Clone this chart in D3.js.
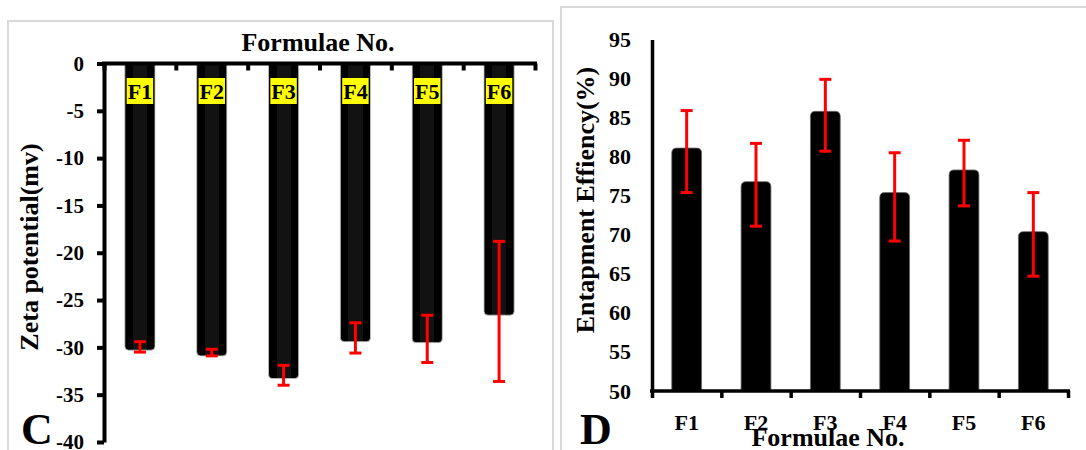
<!DOCTYPE html>
<html>
<head>
<meta charset="utf-8">
<script src="https://cdn.jsdelivr.net/npm/d3@7"></script>
<style>
  body { margin: 0; background: #fff; }
  text { font-family: "Liberation Serif", "Times New Roman", serif; font-weight: bold; fill: #000; }
</style>
</head>
<body>
<div id="chart"></div>
<script>
var svgWidth = 1086;
var svgHeight = 450;

// data
var categories = ["F1", "F2", "F3", "F4", "F5", "F6"];

// panel C : zeta potential (mv)
var zetaValues = [-30.3, -30.9, -33.3, -29.4, -29.5, -26.6];
var zetaErrUp = [0.9, 0.7, 1.4, 2.0, 2.9, 7.8];     // toward zero
var zetaErrDown = [0.2, 0.0, 0.7, 1.2, 2.1, 7.0];
var zetaTicks = [0, -5, -10, -15, -20, -25, -30, -35, -40];

// panel D : entrapment efficiency (%)
var eeValues = [81.1, 76.8, 85.8, 75.4, 78.3, 70.4];
var eeErrUp = [4.8, 4.9, 4.1, 5.1, 3.8, 5.0];
var eeErrDown = [5.7, 5.7, 5.1, 6.2, 4.6, 5.7];
var eeTicks = [50, 55, 60, 65, 70, 75, 80, 85, 90, 95];

var svg = d3.select("#chart")
  .append("svg")
  .attr("width", svgWidth)
  .attr("height", svgHeight);

// bar with rounded corners only at the far end
function barPath(x, w, y0, y1, r) {
  var dir = y1 > y0 ? 1 : -1;
  var yc = y1 - dir * r;
  return `M${x},${y0}V${yc}Q${x},${y1} ${x + r},${y1}H${x + w - r}Q${x + w},${y1} ${x + w},${yc}V${y0}Z`;
}

// gradient used by the C bars (dark stripe in the middle)
var defs = svg.append("defs");
var grad = defs.append("linearGradient").attr("id", "barGrad");
[["0%", "#000"], ["27%", "#000"], ["27%", "#121212"], ["74%", "#121212"], ["74%", "#000"], ["100%", "#000"]]
  .forEach(s => grad.append("stop").attr("offset", s[0]).attr("stop-color", s[1]));

// panel borders
svg.append("rect").attr("x", 8).attr("y", 21).attr("width", 545).attr("height", 450)
  .attr("fill", "none").attr("stroke", "#d9d9d9").attr("stroke-width", 2);
svg.append("rect").attr("x", 561).attr("y", 7).attr("width", 540).attr("height", 460)
  .attr("fill", "none").attr("stroke", "#d9d9d9").attr("stroke-width", 2);

// ================= Panel C =================
var cx = d3.scaleBand().domain(categories).range([104, 535]).paddingInner(0.58).paddingOuter(0.29);
var cy = d3.scaleLinear().domain([0, -40]).range([63.5, 442]);
var cEdges = d3.scaleLinear().domain([0, categories.length]).range(cx.range());

var cGroup = svg.append("g");

// bars
cGroup.selectAll("path.cbar")
  .data(categories)
  .enter()
  .append("path")
  .attr("class", "cbar")
  .attr("d", (d, i) => barPath(cx(d), cx.bandwidth(), cy(0), cy(zetaValues[i]), 4))
  .attr("fill", "url(#barGrad)")
  .attr("stroke", "#c8c8c8")
  .attr("stroke-width", 0.8);

// error bars
var cErr = cGroup.selectAll("g.cerr")
  .data(categories)
  .enter()
  .append("g")
  .attr("class", "cerr")
  .attr("stroke", "#ff0000")
  .attr("stroke-width", 3);
cErr.append("line")
  .attr("x1", d => cx(d) + cx.bandwidth() / 2)
  .attr("x2", d => cx(d) + cx.bandwidth() / 2)
  .attr("y1", (d, i) => cy(zetaValues[i] + zetaErrUp[i]))
  .attr("y2", (d, i) => cy(zetaValues[i] - zetaErrDown[i]));
cErr.append("line")
  .attr("x1", d => cx(d) + cx.bandwidth() / 2 - 6)
  .attr("x2", d => cx(d) + cx.bandwidth() / 2 + 6)
  .attr("y1", (d, i) => cy(zetaValues[i] + zetaErrUp[i]))
  .attr("y2", (d, i) => cy(zetaValues[i] + zetaErrUp[i]));
cErr.append("line")
  .attr("x1", d => cx(d) + cx.bandwidth() / 2 - 6)
  .attr("x2", d => cx(d) + cx.bandwidth() / 2 + 6)
  .attr("y1", (d, i) => cy(zetaValues[i] - zetaErrDown[i]))
  .attr("y2", (d, i) => cy(zetaValues[i] - zetaErrDown[i]));

// y axis (plain hyphen for the minus sign, like the original)
var cYAxis = cGroup.append("g")
  .attr("transform", "translate(104,0)")
  .call(d3.axisLeft(cy).tickValues(zetaTicks).tickFormat(d => String(d))
    .tickSize(7).tickSizeOuter(0).tickPadding(13));
cYAxis.select(".domain").attr("stroke", "#000").attr("stroke-width", 4);
cYAxis.selectAll(".tick line").attr("stroke", "#000").attr("stroke-width", 4);
cYAxis.selectAll(".tick text").style("font-size", "21px").style("font-family", null).attr("fill", "#000");

// x axis on top (zero line) with ticks between categories
var cXAxis = cGroup.append("g")
  .attr("transform", `translate(0,${cy(0)})`)
  .call(d3.axisBottom(cEdges).tickValues(d3.range(categories.length + 1)).tickFormat("").tickSize(7).tickSizeOuter(0));
cXAxis.select(".domain").attr("stroke", "#000").attr("stroke-width", 4)
  .attr("d", `M102,0H537`);
cXAxis.selectAll(".tick line").attr("stroke", "#000").attr("stroke-width", 4);

// yellow category labels
var cLab = cGroup.selectAll("g.clab")
  .data(categories)
  .enter()
  .append("g")
  .attr("class", "clab");
cLab.append("rect").attr("fill", "#ffff00");
cLab.append("text")
  .attr("x", d => cx(d) + cx.bandwidth() / 2)
  .attr("y", 99)
  .attr("text-anchor", "middle")
  .style("font-size", "22px")
  .text(d => d);
cLab.each(function () {
  var g = d3.select(this);
  var bb = g.select("text").node().getBBox();
  g.select("rect")
    .attr("x", bb.x - 1).attr("y", 78)
    .attr("width", bb.width + 2).attr("height", 26);
});

cGroup.append("text")
  .attr("x", 318).attr("y", 51)
  .attr("text-anchor", "middle")
  .style("font-size", "26px")
  .text("Formulae No.");

cGroup.append("text")
  .attr("transform", "translate(38,247) rotate(-90)")
  .attr("text-anchor", "middle")
  .style("font-size", "26px")
  .text("Zeta potential(mv)");

cGroup.append("text")
  .attr("x", 21).attr("y", 444)
  .style("font-size", "44px")
  .text("C");

// ================= Panel D =================
var dx = d3.scaleBand().domain(categories).range([652, 1068]).paddingInner(0.57).paddingOuter(0.285);
var dy = d3.scaleLinear().domain([50, 95]).range([391, 39.5]);
var dEdges = d3.scaleLinear().domain([0, categories.length]).range(dx.range());

var dGroup = svg.append("g");

dGroup.selectAll("path.dbar")
  .data(categories)
  .enter()
  .append("path")
  .attr("class", "dbar")
  .attr("d", (d, i) => barPath(dx(d), dx.bandwidth(), dy(50), dy(eeValues[i]), 5))
  .attr("fill", "#000")
  .attr("stroke", "#6a6a6a")
  .attr("stroke-width", 0.8);

var dErr = dGroup.selectAll("g.derr")
  .data(categories)
  .enter()
  .append("g")
  .attr("class", "derr")
  .attr("stroke", "#ff0000")
  .attr("stroke-width", 3);
dErr.append("line")
  .attr("x1", d => dx(d) + dx.bandwidth() / 2)
  .attr("x2", d => dx(d) + dx.bandwidth() / 2)
  .attr("y1", (d, i) => dy(eeValues[i] + eeErrUp[i]))
  .attr("y2", (d, i) => dy(eeValues[i] - eeErrDown[i]));
dErr.append("line")
  .attr("x1", d => dx(d) + dx.bandwidth() / 2 - 6)
  .attr("x2", d => dx(d) + dx.bandwidth() / 2 + 6)
  .attr("y1", (d, i) => dy(eeValues[i] + eeErrUp[i]))
  .attr("y2", (d, i) => dy(eeValues[i] + eeErrUp[i]));
dErr.append("line")
  .attr("x1", d => dx(d) + dx.bandwidth() / 2 - 6)
  .attr("x2", d => dx(d) + dx.bandwidth() / 2 + 6)
  .attr("y1", (d, i) => dy(eeValues[i] - eeErrDown[i]))
  .attr("y2", (d, i) => dy(eeValues[i] - eeErrDown[i]));

var dYAxis = dGroup.append("g")
  .attr("transform", "translate(652,0)")
  .call(d3.axisLeft(dy).tickValues(eeTicks).tickSize(0).tickPadding(21));
dYAxis.select(".domain").attr("stroke", "#000").attr("stroke-width", 3.5);
dYAxis.selectAll(".tick text").style("font-size", "22px").style("font-family", null).attr("fill", "#000");

var dXAxis = dGroup.append("g")
  .attr("transform", `translate(0,${dy(50)})`)
  .call(d3.axisBottom(dEdges).tickValues(d3.range(categories.length + 1)).tickFormat("").tickSize(7).tickSizeOuter(0));
dXAxis.select(".domain").attr("stroke", "#000").attr("stroke-width", 3.5)
  .attr("d", "M650,0H1070");
dXAxis.selectAll(".tick line").attr("stroke", "#000").attr("stroke-width", 3.5);

dGroup.selectAll("text.dlab")
  .data(categories)
  .enter()
  .append("text")
  .attr("class", "dlab")
  .attr("x", d => dx(d) + dx.bandwidth() / 2)
  .attr("y", 430)
  .attr("text-anchor", "middle")
  .style("font-size", "22px")
  .text(d => d);

dGroup.append("text")
  .attr("x", 828).attr("y", 446)
  .attr("text-anchor", "middle")
  .style("font-size", "26px")
  .text("Formulae No.");

dGroup.append("text")
  .attr("transform", "translate(594,200) rotate(-90)")
  .attr("text-anchor", "middle")
  .style("font-size", "26px")
  .text("Entapment Effiency(%)");

dGroup.append("text")
  .attr("x", 580).attr("y", 444)
  .style("font-size", "44px")
  .text("D");
</script>
</body>
</html>
